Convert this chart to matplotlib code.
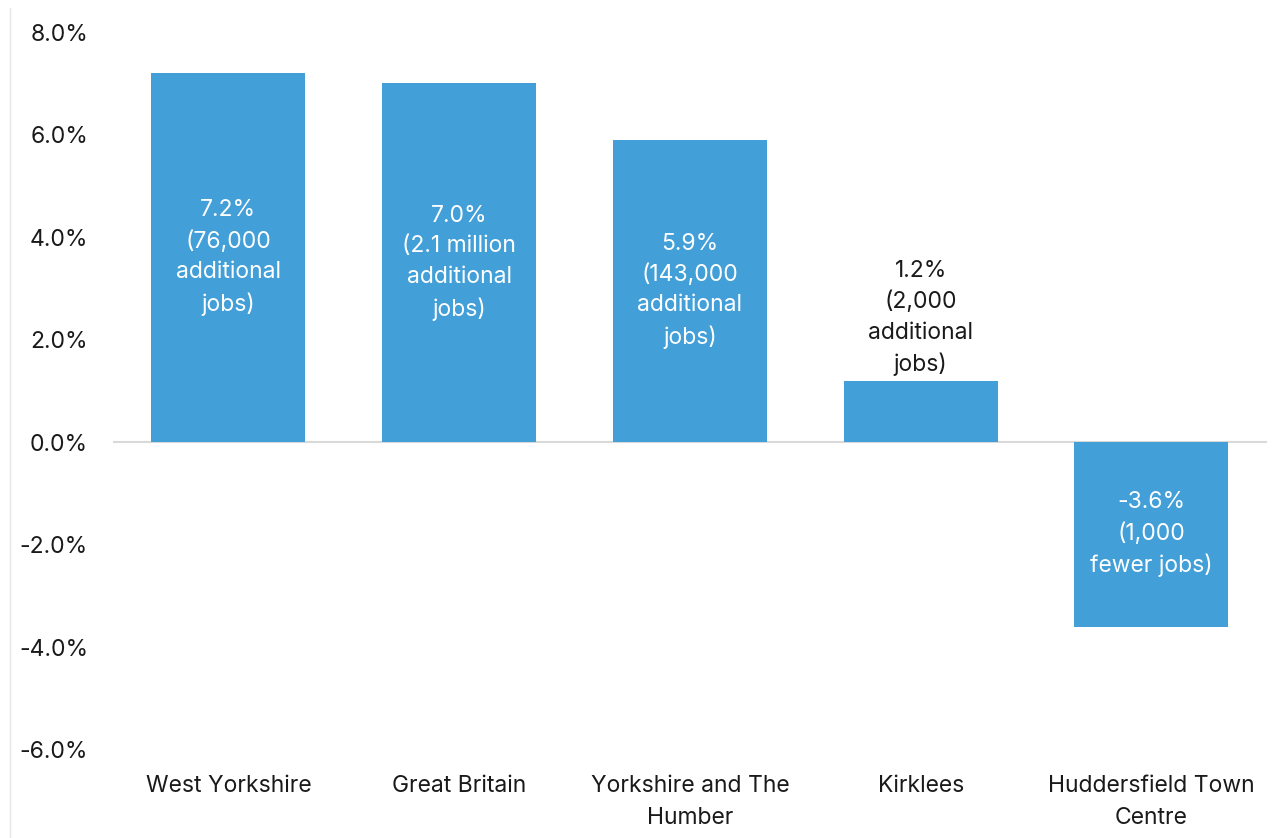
import matplotlib.pyplot as plt
from matplotlib.lines import Line2D
from matplotlib.ticker import FuncFormatter

# === Data ===
areas = ["West Yorkshire", "Great Britain", "Yorkshire and The\nHumber", "Kirklees", "Huddersfield Town\nCentre"]
change_pct = [7.2, 7.0, 5.9, 1.2, -3.6]
bar_labels = [
    "7.2%\n(76,000\nadditional\njobs)",
    "7.0%\n(2.1 million\nadditional\njobs)",
    "5.9%\n(143,000\nadditional\njobs)",
    "1.2%\n(2,000\nadditional\njobs)",
    "-3.6%\n(1,000\nfewer jobs)",
]
yticks = [-6, -4, -2, 0, 2, 4, 6, 8]

plt.rcParams['font.family'] = ['Inter', 'DejaVu Sans']
bar_color = "#429FD8"
text_color = "#1a1a1a"
fs = 16.5

fig = plt.figure(figsize=(12.77, 8.38), dpi=100)
ax = fig.add_axes([0.0885, 0.1056, 0.9035, 0.8562])

x = range(len(areas))
bars = ax.bar(x, change_pct, width=0.667, color=bar_color, zorder=2)

# value labels: inside bars in white, above bar for the short one
for i, (b, v, lab) in enumerate(zip(bars, change_pct, bar_labels)):
    if abs(v) >= 2:
        ax.text(i, v / 2, lab, ha="center", va="center", color="white",
                fontsize=fs, linespacing=1.5)
    else:
        ax.annotate(lab, (i, v), xytext=(0, 3), textcoords="offset points",
                    ha="center", va="bottom", color=text_color,
                    fontsize=fs, linespacing=1.5)

ax.axhline(0, color="#d9d9d9", lw=1.5, zorder=1)

ax.set_xlim(-0.5, len(areas) - 0.5)
ax.set_ylim(-6, 8)
ax.set_yticks(yticks)
ax.yaxis.set_major_formatter(FuncFormatter(lambda v, p: f"{v:.1f}%"))
ax.set_xticks(list(x))
ax.set_xticklabels(areas)
ax.tick_params(axis="both", length=0, labelsize=fs, colors=text_color)
ax.tick_params(axis="x", pad=18)
ax.tick_params(axis="y", pad=18)
for lab in ax.get_xticklabels():
    lab.set_linespacing(1.6)
for s in ax.spines.values():
    s.set_visible(False)

# faint border line at the left edge of the image
fig.add_artist(Line2D([10 / 1277, 10 / 1277], [0, 1 - 8 / 838], transform=fig.transFigure,
                      color="#e6e6e6", lw=1))

fig.savefig("out.png", dpi=100)
